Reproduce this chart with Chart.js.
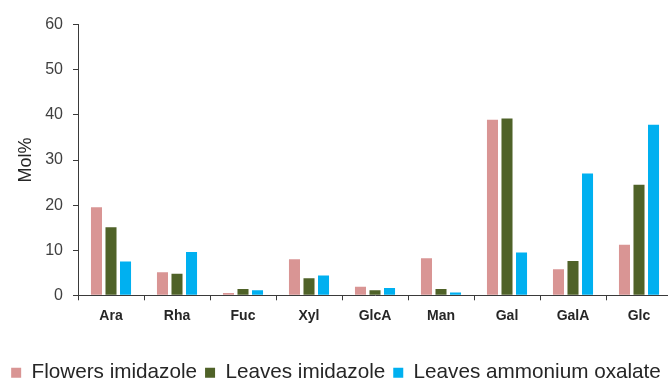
<!DOCTYPE html>
<html>
<head>
<meta charset="utf-8">
<script src="https://cdn.jsdelivr.net/npm/chart.js@4.4.1/dist/chart.umd.min.js"></script>
<style>
  html, body { margin: 0; padding: 0; background: #ffffff; overflow: hidden; }
  #clip { width: 668px; height: 382px; overflow: hidden; }
  #wrap { position: relative; width: 676px; height: 393px; }
</style>
</head>
<body>
<div id="clip"><div id="wrap"><canvas id="chart"></canvas></div></div>
<script>
// Monosaccharide composition (Mol%)
const sugars = ['Ara', 'Rha', 'Fuc', 'Xyl', 'GlcA', 'Man', 'Gal', 'GalA', 'Glc'];
const flowersImidazole = [19.5, 5.1, 0.5, 8.0, 1.9, 8.2, 38.9, 5.8, 11.2];
const leavesImidazole = [15.1, 4.8, 1.4, 3.8, 1.1, 1.4, 39.2, 7.6, 24.5];
const leavesAmmoniumOxalate = [7.5, 9.6, 1.1, 4.4, 1.6, 0.6, 9.5, 27.0, 37.8];
const yTicks = [0, 10, 20, 30, 40, 50, 60];

const axisColor = '#3a3a3a';

new Chart(document.getElementById('chart'), {
  type: 'bar',
  data: {
    labels: sugars,
    datasets: [
      { label: 'Flowers imidazole', data: flowersImidazole, backgroundColor: '#d99594' },
      { label: 'Leaves imidazole', data: leavesImidazole, backgroundColor: '#4f6228' },
      { label: 'Leaves ammonium oxalate', data: leavesAmmoniumOxalate, backgroundColor: '#00b0f0' }
    ]
  },
  options: {
    responsive: true,
    maintainAspectRatio: false,
    animation: false,
    datasets: { bar: { categoryPercentage: 0.66, barPercentage: 0.76 } },
    layout: { padding: { top: 24.7, right: 4, bottom: 0, left: 0 } },
    plugins: {
      tooltip: { enabled: false },
      legend: {
        position: 'bottom',
        labels: {
          font: { family: 'Liberation Sans, Arial, sans-serif', size: 20.7 },
          color: '#262626',
          boxWidth: 10,
          boxHeight: 10,
          padding: 8
        }
      }
    },
    scales: {
      x: {
        grid: { display: true, drawOnChartArea: false, drawTicks: true, tickLength: 5, color: axisColor, offset: true },
        border: { color: axisColor, width: 1 },
        ticks: {
          font: { family: 'Liberation Sans, Arial, sans-serif', size: 14, weight: 'bold' },
          color: '#262626',
          padding: 7,
          maxRotation: 0
        },
        afterFit: (s) => { s.height = 59; }
      },
      y: {
        min: 0,
        max: 60,
        afterBuildTicks: (s) => { s.ticks = yTicks.map(v => ({ value: v })); },
        grid: { display: true, drawOnChartArea: false, drawTicks: true, tickLength: 5, color: axisColor },
        border: { color: axisColor, width: 1 },
        ticks: {
          font: { family: 'Liberation Sans, Arial, sans-serif', size: 16 },
          color: '#404040',
          padding: 10
        },
        title: {
          display: true,
          text: 'Mol%',
          font: { family: 'Liberation Sans, Arial, sans-serif', size: 18 },
          color: '#262626',
          padding: { top: 15, bottom: 0 }
        },
        afterFit: (s) => { s.width = 78; s.paddingTop = 0; s.paddingBottom = 0; }
      }
    }
  }
});
</script>
</body>
</html>
